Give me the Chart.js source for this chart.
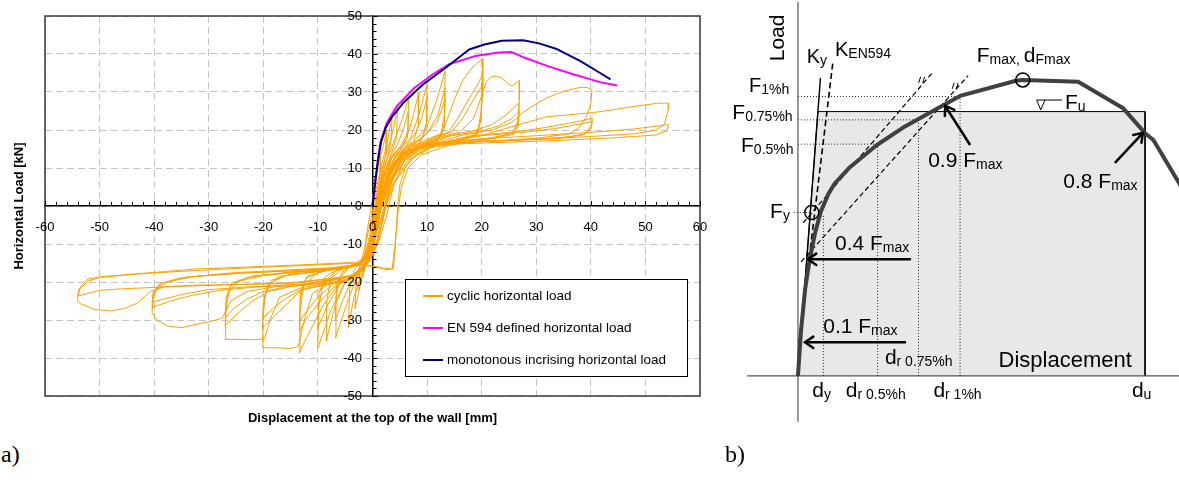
<!DOCTYPE html>
<html>
<head>
<meta charset="utf-8">
<script src="https://cdn.jsdelivr.net/npm/chart.js@4.4.0/dist/chart.umd.min.js"></script>
<style>
  body { margin: 0; background: #fff; width: 1179px; height: 486px; position: relative; overflow: hidden; }
  #chartA { position: absolute; left: 0; top: 0; }
  #chartB { position: absolute; left: 720px; top: 0; }
  .panel { position: absolute; font-family: "Liberation Serif", "Times New Roman", serif; font-size: 24px; line-height: 24px; }
</style>
</head>
<body>
<canvas id="chartA" width="720" height="440"></canvas>
<canvas id="chartB" width="459" height="486"></canvas>
<div class="panel" style="left:1px; top:442px;">a)</div>
<div class="panel" style="left:725px; top:442px;">b)</div>
<script>
// ---------- panel a: hysteresis of the wall ----------
const xTickValues = [-60, -50, -40, -30, -20, -10, 0, 10, 20, 30, 40, 50, 60];
const yTickValues = [-50, -40, -30, -20, -10, 0, 10, 20, 30, 40, 50];
const xTitle = 'Displacement at the top of the wall [mm]';
const yTitle = 'Horizontal Load [kN]';
const seriesNames = ['cyclic horizontal load', 'EN 594 defined horizontal load', 'monotonous incrising horizontal load'];

// monotonic test
const monoX = [0, 0.4, 1.0, 1.6, 2.4, 3.5, 5.6, 9.2, 13.4, 17.7, 20.5, 23.7, 27.6, 30.5, 33.6, 38.1, 41.7, 43.6];
const monoY = [0, 5, 12, 17, 20.5, 23.3, 27.1, 31.9, 36.4, 41.2, 42.5, 43.5, 43.6, 42.8, 41.4, 38.1, 35.0, 33.3];
// EN 594 envelope
const enX = [0, 0.5, 1.0, 1.4, 2.6, 4.4, 7.7, 11.0, 14.0, 18.9, 23.1, 25.5, 27.9, 32.1, 36.9, 41.7, 44.8];
const enY = [0, 6.7, 12, 16.5, 21.8, 26.2, 31.1, 34.6, 37.3, 39.5, 40.4, 40.5, 39.0, 36.8, 34.6, 32.6, 31.7];

// cyclic record, grouped by amplitude [mm, kN]
const loops2mm = [[0,0],[0.4,6],[1.0,11],[1.5,14],[1.4,9],[0.9,3],[0.4,-4],[0,-9],[-0.8,-13],[-1.5,-15],[-1.3,-10],[-0.8,-5],
  [-0.3,-1],[0.3,5],[1.2,12],[2.0,16],[2.6,20],[2.5,14],[1.8,9],[1.0,2],[0.3,-6],[-0.5,-12],[-1.5,-17],[-2.5,-22],[-2.3,-16],[-1.6,-12],[-0.8,-7]];
const loops4mm = [[-0.2,-3],[0.6,4],[1.5,10],[2.6,16],[3.6,24],[3.4,17],[2.6,12],[1.6,7],[0.8,0],[0.2,-8],[-0.8,-14],[-1.8,-18],[-3.2,-27],[-3.0,-19],[-2.2,-15],[-1.2,-12],
  [-0.3,-6],[0.6,2],[1.6,9],[2.8,15],[3.8,20],[4.6,26],[4.4,18],[3.5,14],[2.2,9],[1.2,2],[0.4,-7],[-0.6,-13],[-2,-18],[-3.4,-24],[-4.4,-32],[-4.2,-22],[-3.4,-17],[-2,-14.5],[-0.9,-12]];
const loops6mm = [[0,-6],[0.8,2],[1.8,9],[3,13.5],[4.2,18],[5.5,23],[6.6,28.5],[6.5,20],[5.6,16],[4,14],[2.5,10],[1.3,3],[0.5,-6],[-0.4,-12],[-1.5,-16],[-3,-19],[-5,-27],[-6.8,-34.7],[-6.7,-24],[-6,-19],[-4.5,-16.5],[-2.5,-15],[-1,-13],
  [-0.2,-8],[0.8,1],[2,8],[3.2,12.5],[4.5,16],[5.6,20],[6.6,25],[6.4,18],[5.2,15],[3.6,13],[2.2,8.5],[1.1,1],[0.3,-8],[-0.7,-13.5],[-2,-17],[-4,-20],[-5.5,-25],[-6.8,-30],[-6.6,-21],[-5.6,-17.5],[-3.5,-15.5],[-1.5,-13.5],
  [-0.4,-9],[0.6,0],[1.8,7.5],[3.2,12],[5,15.5],[6.5,19],[7.5,24],[8.5,30],[8.4,21],[7.5,17],[5.5,15],[3.5,12.5],[2.2,7.5],[1.1,0],[0.2,-9],[-0.8,-14],[-2.5,-17.5],[-5,-20],[-6.8,-26],[-8.5,-35.5],[-8.4,-25],[-7.6,-19],[-5.5,-16.5],[-3,-15.5],[-1.2,-14]];
const loops10mm = [[-0.3,-9],[0.8,0],[2.1,7],[3.5,11.5],[5.2,15],[7,18],[8.5,24],[10,32],[9.9,22],[9,17.5],[7,16],[4.5,13.5],[2.8,9],[1.4,1],[0.4,-8],[-0.6,-14],[-2.5,-18],[-5,-20],[-7.5,-27],[-10,-37.3],[-9.9,-27],[-9,-20],[-6.5,-17],[-3.5,-15.8],[-1.3,-14.3],
  [-0.3,-9],[1.0,0],[2.4,7],[4,11.5],[6,15.5],[7.8,19],[9,23],[10,28.5],[9.8,20],[8.6,16.5],[6,15],[4,12.5],[2.6,8],[1.4,0],[0.4,-9],[-0.7,-14.5],[-3,-18.5],[-6,-20.5],[-8.2,-26],[-10,-32],[-9.8,-23],[-8.6,-18.5],[-6,-16.5],[-3,-15.5],[-1.2,-14]];
const loops13mm = [[-0.3,-9],[1.0,0],[2.5,7],[4,11.5],[6,15],[8,17.5],[10,21],[11.8,28],[13.3,35.5],[13.2,24],[12.4,18],[10,16.5],[6,14.5],[3.6,11],[2,5],[0.9,-4],[-0.2,-12],[-1.5,-16.5],[-4,-19],[-6.5,-21],[-9,-26],[-11.5,-33],[-13.4,-38.6],[-13.3,-28],[-12.6,-21],[-10,-17.5],[-6,-16.2],[-2.5,-15.2],[-1,-13.5],
  [0.2,-6],[1.4,2],[3,8.5],[5,13],[7.5,16.5],[10,19],[12,24],[13.3,31],[13.1,21],[12,17.5],[8,15.5],[5,13.5],[3,9],[1.6,2],[0.5,-8],[-0.6,-14],[-3,-18.5],[-6.5,-20.5],[-9.5,-25],[-11.8,-29],[-13.4,-33],[-13.2,-24],[-12.2,-19],[-9,-17],[-5,-16],[-2,-14.8],
  [-0.4,-9],[1.0,0],[2.6,7],[4.5,12],[7,15.5],[9.5,18.5],[11.8,22],[13.3,28],[13.1,20],[11.8,17],[8,15.3],[5,13],[3,8.5],[1.6,1],[0.5,-8.5],[-0.6,-14],[-3,-18.5],[-7,-20.3],[-10,-24],[-12,-27.5],[-13.4,-30.5],[-13.2,-22.5],[-12,-18.5],[-8,-16.8],[-4,-15.8],[-1.5,-14.5]];
const loops20mm = [[0,-6],[1.2,2],[2.8,8],[4.5,12],[7,15.5],[10,17.5],[12.5,19],[13.5,22],[15,28],[16.5,33],[18,36],[19.5,38],[20.2,38.8],[20.2,30],[19.8,22],[18.8,18.5],[15,17.2],[10,16.2],[6,14.5],[3.8,11],[2.2,5],[1,-4],[0,-12],[-1.5,-16.5],[-4,-19],[-8,-20.5],[-11,-23],[-12.5,-30],[-13.6,-37],[-15,-37.5],[-18,-37.3],[-20.1,-37.3],[-20.1,-30],[-19.6,-23],[-18.5,-19.5],[-15,-18],[-10,-17.2],[-5,-16.2],[-2,-15.3],
  [-0.6,-11],[0.8,-2],[2.6,6],[4.6,11.5],[7.5,15.5],[11,18],[14,19.5],[16,24],[18,29],[19.5,32.5],[20.1,34.5],[19.9,25],[19.3,19.5],[17.5,17.8],[12,16.5],[7,15],[4.2,11.5],[2.4,5],[1.1,-3],[0,-11.5],[-1.6,-16.5],[-5,-19.5],[-10,-21],[-13,-22],[-15.5,-25.5],[-18,-29],[-20.1,-32],[-20,-26],[-19.3,-21],[-17,-18.5],[-12,-17.5],[-6,-16.6],[-2.2,-15.5],
  [-0.6,-11],[0.9,-2],[2.8,6],[5,11.5],[8,15.5],[11.5,18],[14.5,19.5],[16.5,23],[18.5,28],[20.1,31.7],[19.9,23],[19.2,18.8],[16,17.2],[11,16.2],[6.5,14.5],[4,11],[2.4,4.5],[1.1,-4],[0,-12],[-1.6,-16.8],[-5,-19.7],[-10,-21.2],[-13.5,-22.3],[-16,-24.5],[-18.3,-27],[-20.1,-29.5],[-19.9,-24.5],[-19,-20.5],[-16,-18.3],[-10,-17.3],[-5,-16.4],[-2,-15.4]];
const loops27mm = [[-0.5,-11],[1.2,-1],[3,6],[5,11.5],[8,15.5],[12,18],[16,19.5],[18.5,23],[20,29],[20.8,32.5],[21.8,34],[22.6,34.2],[23.8,33.6],[25,32],[25.6,31.6],[26.2,32.2],[26.9,33],[26.9,28],[26.6,22],[25.6,19.3],[22,17.8],[15,17],[9,15.8],[5.5,13.5],[3.5,9.5],[2,3],[0.8,-6],[-0.5,-13],[-2.5,-17.5],[-7,-20],[-13,-21.5],[-17,-24],[-18.8,-30],[-19.8,-35],[-22,-35.2],[-25,-35.1],[-27,-35.1],[-26.9,-28],[-26.4,-23],[-25,-20],[-20,-18.3],[-12,-17.2],[-5,-16.2],[-2,-15.2],
  [-0.6,-11],[1,-2],[3,6],[5.5,12],[9,16],[14,18.5],[19,20],[22,21.5],[24.5,24],[26.9,27.2],[26.7,22],[26,19.3],[22,18],[15,17],[9,15.5],[5.5,13],[3.5,9],[2,2.5],[0.7,-6.5],[-0.6,-13.5],[-3,-17.8],[-9,-20.2],[-15,-21.2],[-19,-22.5],[-22,-25],[-24.5,-28],[-27,-31.5],[-26.8,-25.5],[-26,-21],[-23,-18.8],[-16,-17.5],[-8,-16.6],[-2.5,-15.5],
  [-0.6,-11],[1.1,-2],[3.2,6],[5.8,12],[9.5,16],[14.5,18.5],[20,19.8],[23,21],[25.5,23],[26.9,25],[26.7,21],[25.8,18.8],[21,17.6],[14,16.8],[8.5,15.3],[5.2,12.8],[3.3,8.5],[1.9,2],[0.6,-7],[-0.6,-13.8],[-3.2,-18],[-9,-20.3],[-16,-21.3],[-20,-22.5],[-23,-24.5],[-25.5,-27],[-27,-29.5],[-26.8,-24],[-25.8,-20.3],[-22,-18.4],[-15,-17.5],[-8,-16.6],[-2.5,-15.4]];
const loops40mm = [[-0.6,-11],[1.2,-2],[3.3,6],[6,12],[10,16],[16,18.5],[22,20],[25.5,22],[27.5,24.5],[29.5,26.5],[32,28.5],[35,30.2],[38,31.2],[39.3,31.2],[40.2,30.6],[40,27],[39.2,23.5],[37.8,20.5],[36,19],[30,17.8],[20,17],[12,16.3],[7.5,14.8],[4.8,11.5],[3.2,6],[2,-1],[0.8,-9],[-0.6,-14.2],[-3,-18],[-10,-20.3],[-18,-21.3],[-23,-22.5],[-26,-25],[-27.5,-29.5],[-29.7,-30.4],[-32.5,-31.2],[-34.9,-32],[-37.6,-31.6],[-39.5,-30],[-40.4,-28.1],[-40.2,-24.5],[-39.5,-21.8],[-37.6,-20],[-33,-18.6],[-25,-17.5],[-15,-16.8],[-7,-16.2],[-2.5,-15.3],
  [-0.5,-11],[1.6,-3],[3.6,5.5],[6.5,12],[11,16.2],[18,18.5],[26,19.5],[31,20.5],[35,21.5],[38.5,22.5],[40.3,23.1],[40,21],[39,19],[35,18],[26,17.3],[16,16.8],[9,15.5],[5.5,12.5],[3.6,7],[2.3,-1],[1,-9],[-0.5,-14.5],[-3.5,-18.3],[-12,-20.5],[-22,-21.4],[-28,-22.2],[-33,-23.5],[-37,-25],[-40.4,-26.7],[-40.2,-23],[-39,-20.5],[-35,-18.8],[-26,-17.8],[-15,-17],[-7,-16.4],[-2.5,-15.5],
  [-0.5,-11],[1.8,-3],[3.8,5.5],[7,12.3],[12,16.4],[19,18.4],[27,19.3],[33,20.3],[37,21.3],[40.3,22.2],[40,20.3],[38.5,18.6],[33,17.8],[24,17.2],[15,16.6],[8.5,15.2],[5.3,12.2],[3.5,6.5],[2.2,-1.5],[0.9,-9.5],[-0.5,-14.6],[-3.6,-18.4],[-13,-20.6],[-24,-21.4],[-30,-22],[-35,-23.3],[-40.4,-25.3],[-40.1,-22.3],[-38.5,-20.2],[-33,-18.6],[-24,-17.7],[-14,-17],[-6,-16.3],[-2.3,-15.5]];
const loops54mm = [[0.5,-16],[2.5,-16.8],[3.8,-16.5],[4.2,-10],[4.6,0],[5,5.5],[6,10],[8,13.5],[12,16.5],[20,18.5],[27,21.5],[32,23.5],[36,24],[40.5,24.6],[44,25.3],[47,26],[50,26.6],[52,27],[53.5,27.1],[54.2,27],[54.2,25.5],[53.5,21.5],[52,20],[48,19],[40,18.3],[30,17.5],[20,17],[12,16.2],[7.5,14.8],[5,11.5],[3.2,5],[2,-3],[0.8,-10],[-0.8,-14.8],[-4,-18.5],[-15,-20.4],[-25,-20.7],[-32,-20.8],[-38,-21.2],[-40.7,-22.5],[-43,-25.5],[-45.5,-27],[-48,-27.6],[-51,-27.2],[-53.5,-25.7],[-54.1,-25],[-54,-23.5],[-53.5,-21.6],[-52,-19.7],[-49.8,-18.8],[-43.7,-17.9],[-37.6,-17.2],[-32.7,-16.6],[-25.4,-16.2],[-13.2,-15.5],[-4.1,-14.9],[-1,-15.5],[1.5,-16.2],[3.6,-16.6],
  [4.2,-9],[4.8,0],[5.3,5],[6.5,10],[9,13.5],[14,16],[22,17.8],[30,18.5],[38,19.2],[44,19.8],[48,20.3],[51,20.8],[53.5,21.3],[54.2,21.4],[54,19.8],[52,18.7],[45,18],[35,17.3],[25,16.8],[15,16.3],[9,15],[5.8,12],[3.8,5],[2.5,-3],[1,-10],[-0.8,-15],[-4,-18.5],[-15,-20.2],[-28,-20.8],[-38,-21.3],[-46,-21.8],[-50,-22.2],[-54,-23.7],[-53.8,-21.9],[-52.3,-19.3],[-49.8,-18.6],[-40,-17.6],[-30,-16.8],[-20,-16.1],[-10,-15.5],[-3,-15],[-0.5,-14]];

// ---------- panel b: evaluation scheme (load vs displacement, % of Fmax / d_u) ----------
const curveD = [0, 0.9, 2.05, 3.4, 5.0, 6.6, 8.8, 10.6, 15.0, 22.8, 30.9, 39.6, 46.8, 63.2, 64.9, 80.9, 93.9, 100.2, 102.6, 109.8, 114];
const curveF = [0, 15.5, 29.1, 39.5, 48.5, 55.5, 61.5, 65.0, 70.5, 78.0, 84.3, 89.9, 94.6, 99.8, 100, 99.4, 90.4, 82.0, 79.7, 65.6, 57];
const bilinD = [0, 5.76, 100.2, 100.2];
const bilinF = [0, 89.3, 89.3, 0];
const kyD = [0, 6.5], kyF = [0, 100.7];
const kEnD = [0.3, 10.1], kEnF = [11.1, 106.1];
const tanAD = [1.5, 39.1], tanAF = [51.7, 102.8];
const tanBD = [0.9, 49.1], tanBF = [38.5, 101.4];
const dispMarks = [7.33, 23.0, 34.8, 46.8];   // d_y, d_r0.5%h, d_r0.75%h, d_r1%h
const loadMarks = [55.2, 78.3, 86.5, 94.4];   // F_y, F_0.5%h, F_0.75%h, F_1%h
const fyPoint = [4.0, 55.2];
const fmaxPoint = [64.9, 100];
const arrowTails = [[49.7, 78.0], [91.5, 72.0], [32.6, 39.4], [31.2, 11.35]];
const arrowTips = [[42.5, 91.2], [99.6, 82.1], [2.9, 39.4], [2.05, 11.35]];
const axisD = [-14.7, 110], axisF = [-15.5, 126.3];

const pts = (xs, ys) => xs.map((v, i) => ({x: v, y: ys[i]}));
const pairs = arr => arr.map(p => ({x: p[0], y: p[1]}));

// ----- chart a -----
const cyclic = pairs([].concat(loops2mm, loops4mm, loops6mm, loops10mm, loops13mm, loops20mm, loops27mm, loops40mm, loops54mm));

const wallAxes = {
  id: 'wallAxes',
  afterDatasetsDraw(chart) {
    const {ctx, chartArea: ca, scales: {x, y}} = chart;
    const x0 = x.getPixelForValue(0), y0 = y.getPixelForValue(0);
    ctx.save();
    ctx.strokeStyle = '#3a3a3a';
    ctx.lineWidth = 1.5;
    ctx.strokeRect(ca.left, ca.top, ca.right - ca.left, ca.bottom - ca.top);

    // tick marks every 2 units
    ctx.strokeStyle = '#000';
    ctx.lineWidth = 1;
    ctx.beginPath();
    for (let v = x.min; v <= x.max; v += 2) {
      const p = Math.round(x.getPixelForValue(v)) + 0.5;
      ctx.moveTo(p, y0);
      ctx.lineTo(p, y0 - (v % 10 === 0 ? 5 : 4));
    }
    for (let v = y.min; v <= y.max; v += 2) {
      const p = Math.round(y.getPixelForValue(v)) + 0.5;
      ctx.moveTo(x0, p);
      ctx.lineTo(x0 + (v % 10 === 0 ? 5 : 4), p);
    }
    ctx.stroke();

    // tick labels
    ctx.fillStyle = '#000';
    ctx.font = '13px "Liberation Sans", Arial, sans-serif';
    ctx.textAlign = 'center';
    ctx.textBaseline = 'middle';
    xTickValues.forEach(v => ctx.fillText(String(v), x.getPixelForValue(v), y0 + 21.5));
    ctx.textAlign = 'right';
    yTickValues.forEach(v => ctx.fillText(String(v), x0 - 10.5, y.getPixelForValue(v)));

    // axis titles
    ctx.font = 'bold 13px "Liberation Sans", Arial, sans-serif';
    ctx.textAlign = 'center';
    ctx.fillText(xTitle, (ca.left + ca.right) / 2, ca.bottom + 22);
    ctx.save();
    ctx.translate(19, (ca.top + ca.bottom) / 2);
    ctx.rotate(-Math.PI / 2);
    ctx.fillText(yTitle, 0, 0);
    ctx.restore();

    // legend
    const bl = ca.left + 360, bt = ca.top + 263, bw = 282, bh = 97;
    ctx.fillStyle = '#fff';
    ctx.fillRect(bl, bt, bw, bh);
    ctx.strokeStyle = '#000';
    ctx.lineWidth = 1;
    ctx.strokeRect(bl + 0.5, bt + 0.5, bw, bh);
    ctx.font = '13.5px "Liberation Sans", Arial, sans-serif';
    ctx.textAlign = 'left';
    chart.data.datasets.forEach((ds, i) => {
      const ly = bt + 17 + i * 32;
      ctx.strokeStyle = ds.borderColor;
      ctx.lineWidth = 2;
      ctx.beginPath();
      ctx.moveTo(bl + 18, ly);
      ctx.lineTo(bl + 38, ly);
      ctx.stroke();
      ctx.fillStyle = '#000';
      ctx.fillText(ds.label, bl + 42, ly + 0.5);
    });
    ctx.restore();
  }
};

new Chart(document.getElementById('chartA'), {
  type: 'scatter',
  data: {
    datasets: [
      {label: seriesNames[0], data: cyclic, borderColor: '#ffa000', borderWidth: 1, order: 3},
      {label: seriesNames[1], data: pts(enX, enY), borderColor: '#ff00ff', borderWidth: 2, order: 2},
      {label: seriesNames[2], data: pts(monoX, monoY), borderColor: '#000080', borderWidth: 2, order: 1}
    ].map(d => Object.assign(d, {showLine: true, pointRadius: 0, tension: 0, borderJoinStyle: 'round'}))
  },
  options: {
    responsive: false,
    animation: false,
    events: [],
    layout: {autoPadding: false, padding: {left: 45, right: 20, top: 16, bottom: 44}},
    plugins: {legend: {display: false}, tooltip: {enabled: false}},
    scales: {
      x: {
        type: 'linear', min: -60, max: 60, position: {y: 0},
        afterBuildTicks: s => { s.ticks = xTickValues.map(v => ({value: v})); },
        ticks: {display: false},
        grid: {color: '#c4c4c4', lineWidth: 1, drawTicks: false},
        border: {display: true, color: '#000', width: 1.5, dash: [7, 4]}
      },
      y: {
        type: 'linear', min: -50, max: 50, position: {x: 0},
        afterBuildTicks: s => { s.ticks = yTickValues.map(v => ({value: v})); },
        ticks: {display: false},
        grid: {color: '#c4c4c4', lineWidth: 1, drawTicks: false},
        border: {display: true, color: '#000', width: 1.5, dash: [7, 4]}
      }
    }
  },
  plugins: [wallAxes]
});

// ----- chart b -----
const labelsB = [
  {at: [2.54, 105.6], parts: [['K', 0], ['y', 1]], size: 20},
  {at: [10.7, 108.1], parts: [['K', 0], ['EN594', 1]], size: 20},
  {at: [-14.1, 95.8], parts: [['F', 0], ['1%h', 1]], size: 20},
  {at: [-18.94, 86.7], parts: [['F', 0], ['0.75%h', 1]], size: 21},
  {at: [-16.43, 75.8], parts: [['F', 0], ['0.5%h', 1]], size: 21},
  {at: [-8.05, 53.2], parts: [['F', 0], ['y', 1]], size: 21},
  {at: [51.6, 106.1], parts: [['F', 0], ['max, ', 1], ['d', 0], ['Fmax', 1]], size: 21},
  {at: [77.1, 90.2], parts: [['F', 0], ['u', 1]], size: 21},
  {at: [37.6, 70.7], parts: [['0.9 F', 0], ['max', 1]], size: 21},
  {at: [76.6, 63.4], parts: [['0.8 F', 0], ['max', 1]], size: 21},
  {at: [10.7, 42.6], parts: [['0.4 F', 0], ['max', 1]], size: 21},
  {at: [7.3, 14.4], parts: [['0.1 F', 0], ['max', 1]], size: 21},
  {at: [25.1, 4.05], parts: [['d', 0], ['r 0.75%h', 1]], size: 21},
  {at: [57.9, 3.14], parts: [['Displacement', 0]], size: 22},
  {at: [4.16, -7.2], parts: [['d', 0], ['y', 1]], size: 21},
  {at: [13.8, -7.2], parts: [['d', 0], ['r 0.5%h', 1]], size: 21},
  {at: [39.1, -7.2], parts: [['d', 0], ['r 1%h', 1]], size: 21},
  {at: [96.4, -7.2], parts: [['d', 0], ['u', 1]], size: 21}
];

const schemeMarks = {
  id: 'schemeMarks',
  afterDatasetsDraw(chart) {
    const {ctx, scales: {x, y}} = chart;
    const px = v => x.getPixelForValue(v), py = v => y.getPixelForValue(v);
    ctx.save();
    ctx.strokeStyle = '#000';
    ctx.fillStyle = '#000';

    // arrow heads
    ctx.lineWidth = 2.5;
    ctx.lineCap = 'round';
    ctx.lineJoin = 'miter';
    arrowTips.forEach((tip, i) => {
      const tx = px(tip[0]), ty = py(tip[1]);
      const ang = Math.atan2(ty - py(arrowTails[i][1]), tx - px(arrowTails[i][0]));
      ctx.beginPath();
      ctx.moveTo(tx - 10 * Math.cos(ang - 0.6), ty - 10 * Math.sin(ang - 0.6));
      ctx.lineTo(tx, ty);
      ctx.lineTo(tx - 10 * Math.cos(ang + 0.6), ty - 10 * Math.sin(ang + 0.6));
      ctx.stroke();
    });

    // little break marks at the ends of the tangents
    ctx.lineWidth = 1;
    ctx.lineCap = 'butt';
    [[tanAD[1] - 3.4, tanAF[1] - 2.8], [tanBD[1] - 3.7, tanBF[1] - 3.4]].forEach(m => {
      const mx = px(m[0]), my = py(m[1]);
      ctx.beginPath();
      ctx.moveTo(mx - 3, my + 3); ctx.lineTo(mx - 1, my - 3);
      ctx.moveTo(mx + 1, my + 3); ctx.lineTo(mx + 3, my - 3);
      ctx.stroke();
    });

    // F_u marker on the bilinear plateau
    const fuY = bilinF[1];
    ctx.beginPath();
    ctx.moveTo(px(68.9), py(fuY + 3.9));
    ctx.lineTo(px(71.3), py(fuY + 3.9));
    ctx.lineTo(px(70.1), py(fuY + 0.6));
    ctx.closePath();
    ctx.moveTo(px(71.3), py(fuY + 3.9));
    ctx.lineTo(px(76.2), py(fuY + 3.9));
    ctx.stroke();

    // labels
    ctx.textBaseline = 'alphabetic';
    ctx.textAlign = 'left';
    labelsB.forEach(l => {
      let cx = px(l.at[0]);
      const by = py(l.at[1]);
      l.parts.forEach(([t, sub]) => {
        ctx.font = (sub ? 14 : l.size) + 'px "Liberation Sans", Arial, sans-serif';
        ctx.fillText(t, cx, by + (sub ? 2 : 0));
        cx += ctx.measureText(t).width;
      });
    });
    ctx.font = '21px "Liberation Sans", Arial, sans-serif';
    ctx.textAlign = 'center';
    ctx.textBaseline = 'middle';
    ctx.translate(px(-5.74), py(114.2));
    ctx.rotate(-Math.PI / 2);
    ctx.fillText('Load', 0, 0);
    ctx.restore();
  }
};

const seg = (xs, ys, style) => Object.assign({data: pts(xs, ys), showLine: true, pointRadius: 0, borderColor: '#000', borderWidth: 1, tension: 0}, style);
const dotted = {borderColor: '#222', borderWidth: 1, borderDash: [1, 2], order: 4};

const bSets = [
  {data: [fyPoint, fmaxPoint].map(p => ({x: p[0], y: p[1]})), showLine: false, pointRadius: 7,
   pointBorderColor: '#000', pointBorderWidth: 1.5, pointBackgroundColor: 'rgba(0,0,0,0)', order: 0},
  seg(curveD, curveF, {borderColor: '#404040', borderWidth: 4, borderJoinStyle: 'round', order: 2}),
  seg(kyD, kyF, {borderWidth: 1.4, order: 3}),
  seg(kEnD, kEnF, {borderWidth: 1.6, borderDash: [6, 3.5], order: 3}),
  seg(tanAD, tanAF, {borderWidth: 1.2, borderDash: [5, 3], order: 3}),
  seg(tanBD, tanBF, {borderWidth: 1.2, borderDash: [5, 3], order: 3}),
  seg([-1.2, fyPoint[0]], [loadMarks[0], loadMarks[0]], dotted),
  seg([dispMarks[0], dispMarks[0]], [0, loadMarks[0] - 1], dotted),
  seg(bilinD, bilinF, {backgroundColor: '#e8e8e8', fill: 'origin', borderWidth: 1, order: 6}),
  seg(axisD, [0, 0], {borderColor: '#555', borderWidth: 1.2, order: 5}),
  seg([0, 0], axisF, {borderColor: '#555', borderWidth: 1.2, order: 5})
];
for (let i = 1; i < dispMarks.length; i++) {
  bSets.push(seg([0, dispMarks[i]], [loadMarks[i], loadMarks[i]], dotted));
  bSets.push(seg([dispMarks[i], dispMarks[i]], [0, loadMarks[i]], dotted));
}
arrowTails.forEach((t, i) => bSets.push(seg([t[0], arrowTips[i][0]], [t[1], arrowTips[i][1]], {borderWidth: 2.5, order: 1})));

new Chart(document.getElementById('chartB'), {
  type: 'scatter',
  data: {datasets: bSets},
  options: {
    responsive: false,
    animation: false,
    events: [],
    layout: {autoPadding: false, padding: 0},
    plugins: {legend: {display: false}, tooltip: {enabled: false}},
    scales: {
      x: {type: 'linear', display: false, min: -22.5, max: 110},
      y: {type: 'linear', display: false, min: -37.2, max: 127}
    }
  },
  plugins: [schemeMarks]
});
</script>
</body>
</html>
